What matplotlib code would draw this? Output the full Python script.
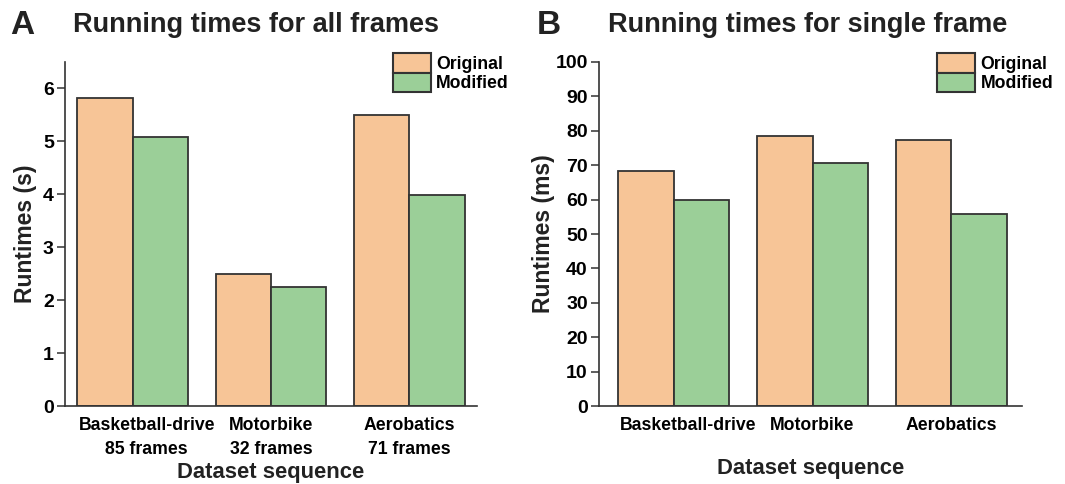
import numpy as np
import matplotlib.pyplot as plt
from matplotlib.transforms import ScaledTranslation

plt.rcParams['font.family'] = ['Liberation Sans', 'DejaVu Sans']
plt.rcParams['font.weight'] = 'bold'
plt.rcParams['axes.labelweight'] = 'bold'

# data
series = ['Original', 'Modified']
colors = ['#F7C597', '#9BCF98']
labels_all = ['Basketball-drive\n85 frames', 'Motorbike\n32 frames', 'Aerobatics\n71 frames']
labels_single = ['Basketball-drive', 'Motorbike', 'Aerobatics']
all_original = [5.81, 2.50, 5.49]
all_modified = [5.09, 2.25, 3.98]
single_original = [68.2, 78.5, 77.3]
single_modified = [59.9, 70.5, 55.9]

edge = '#333333'
fig = plt.figure(figsize=(10.65, 4.84), dpi=100)
axA = fig.add_axes([0.061, 0.161, 0.387, 0.711])
axB = fig.add_axes([0.5624, 0.161, 0.3972, 0.711])


def draw(ax, orig, mod, labels, ylim, yticks, ylabel, xlim, ylpad):
    x = np.arange(len(labels))
    w = 0.4
    ax.bar(x - w / 2, orig, w, color=colors[0], edgecolor=edge, linewidth=1.3, label=series[0])
    ax.bar(x + w / 2, mod, w, color=colors[1], edgecolor=edge, linewidth=1.3, label=series[1])
    ax.set_xlim(*xlim)
    ax.set_ylim(*ylim)
    ax.set_yticks(yticks)
    ax.set_xticks(x)
    ax.set_xticklabels(labels, fontsize=12.7, linespacing=1.5)
    ax.tick_params(axis='x', length=0, pad=8)
    ax.tick_params(axis='y', length=6, width=1.1, color=edge, labelsize=14, pad=2)
    for s in ['top', 'right']:
        ax.spines[s].set_visible(False)
    for s in ['left', 'bottom']:
        ax.spines[s].set_color(edge)
        ax.spines[s].set_linewidth(1.2)
    ax.set_ylabel(ylabel, fontsize=16.5, labelpad=ylpad, color='#222222')
    # first label sits a little to the right in the original
    lbl = ax.get_xticklabels()[0]
    lbl.set_transform(lbl.get_transform() + ScaledTranslation(0.14, 0, fig.dpi_scale_trans))
    leg = ax.legend(loc='upper left', bbox_to_anchor=(0.795, 1.025), frameon=False,
                    fontsize=12.7, handlelength=2.15, handleheight=1.3,
                    labelspacing=0.0, handletextpad=0.3, borderaxespad=0, borderpad=0)
    for p in leg.get_patches():
        p.set_edgecolor(edge)
        p.set_linewidth(1.5)


draw(axA, all_original, all_modified, labels_all, (0, 6.5), range(0, 7), 'Runtimes (s)', (-0.49, 2.49), 4)
axA.set_xlabel('Dataset sequence', fontsize=15.8, labelpad=3, color='#222222')
draw(axB, single_original, single_modified, labels_single, (0, 100), range(0, 101, 10), 'Runtimes (ms)', (-0.54, 2.51), 0)
axB.set_xlabel('Dataset sequence', fontsize=15.8, labelpad=17, color='#222222')
axB.get_legend().set_bbox_to_anchor((0.8, 1.025))

fig.text(0.0094, 0.948, 'A', fontsize=24, va='center', ha='left', color='#222222')
fig.text(0.0685, 0.948, 'Running times for all frames', fontsize=19.5, va='center', ha='left', color='#222222')
fig.text(0.504, 0.948, 'B', fontsize=24, va='center', ha='left', color='#222222')
fig.text(0.571, 0.948, 'Running times for single frame', fontsize=19.5, va='center', ha='left', color='#222222')

fig.savefig('out.png', dpi=100)
